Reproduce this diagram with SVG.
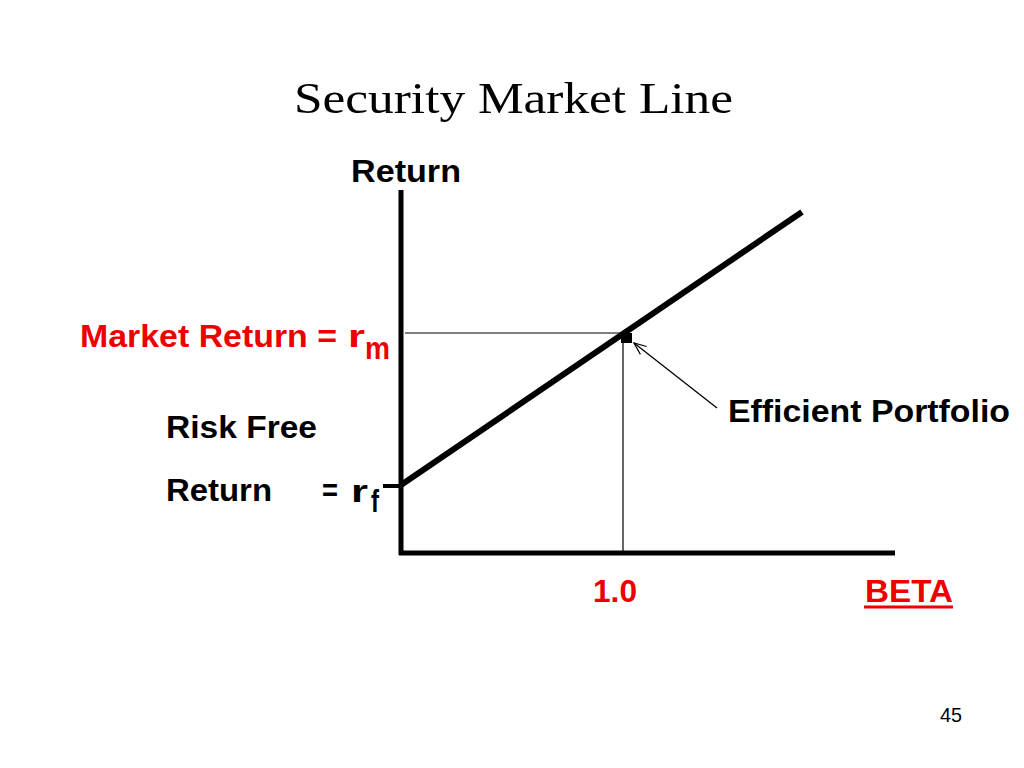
<svg xmlns="http://www.w3.org/2000/svg" width="1024" height="768" viewBox="0 0 1024 768">
<defs>
<style>
.t{font-family:"Liberation Sans",Arial,sans-serif;font-weight:bold;font-size:32px;fill:#000}
.r{fill:#ee0000}
</style>
<marker id="ah" markerWidth="14" markerHeight="14" refX="13" refY="7" orient="auto" markerUnits="userSpaceOnUse">
<path d="M1,2 L13,7 L1,12" fill="none" stroke="#000" stroke-width="1.2"/>
</marker>
</defs>
<rect width="1024" height="768" fill="#fff"/>
<text x="294" y="113" textLength="439" lengthAdjust="spacingAndGlyphs" font-family="'Liberation Serif','Times New Roman',serif" font-size="45" fill="#000">Security Market Line</text>
<g id="axes">
<line x1="401" y1="190" x2="401" y2="555" stroke="#000" stroke-width="5"/>
<line x1="399" y1="553" x2="895" y2="553" stroke="#000" stroke-width="5"/>
<line x1="383" y1="486" x2="401" y2="486" stroke="#000" stroke-width="4"/>
</g>
<g id="connectors">
<line x1="405" y1="333" x2="625" y2="333" stroke="#000" stroke-width="1.2"/>
<line x1="623" y1="333" x2="623" y2="553" stroke="#000" stroke-width="1.2"/>
<line x1="401" y1="485" x2="802" y2="212" stroke="#000" stroke-width="6"/>
<line x1="717" y1="408" x2="634" y2="343" stroke="#000" stroke-width="1.3" marker-end="url(#ah)"/>
</g>
<g id="market-point"><rect x="621" y="333" width="11" height="10" fill="#000"/></g>
<g id="label-return"><text class="t" x="351" y="182" font-size="31" textLength="110" lengthAdjust="spacingAndGlyphs">Return</text></g>
<g id="label-market">
<text class="t r" x="80" y="347" textLength="257" lengthAdjust="spacingAndGlyphs">Market Return =</text>
<text class="t r" x="348" y="347" font-size="47" textLength="17" lengthAdjust="spacingAndGlyphs">r</text>
<text class="t r" x="365" y="359" font-size="29" textLength="25" lengthAdjust="spacingAndGlyphs">m</text>
</g>
<g id="label-riskfree">
<text class="t" x="166" y="438" textLength="151" lengthAdjust="spacingAndGlyphs">Risk Free</text>
<text class="t" x="166" y="501" textLength="106" lengthAdjust="spacingAndGlyphs">Return</text>
<text class="t" x="322" y="501" textLength="16" lengthAdjust="spacingAndGlyphs">=</text>
<text class="t" x="351" y="502" font-size="45" textLength="17" lengthAdjust="spacingAndGlyphs">r</text>
<text class="t" x="371" y="512" font-size="24" textLength="8" lengthAdjust="spacingAndGlyphs">f</text>
</g>
<g id="label-efficient"><text class="t" x="728" y="422" textLength="282" lengthAdjust="spacingAndGlyphs">Efficient Portfolio</text></g>
<g id="label-beta1"><text class="t r" x="593" y="602" textLength="44" lengthAdjust="spacingAndGlyphs">1.0</text></g>
<g id="label-beta">
<text class="t r" x="865" y="602" textLength="88" lengthAdjust="spacingAndGlyphs">BETA</text>
<line x1="864" y1="607" x2="953" y2="607" stroke="#ee0000" stroke-width="3"/>
</g>
<text x="940" y="722" font-family="'Liberation Sans',Arial,sans-serif" font-size="21" textLength="22" lengthAdjust="spacingAndGlyphs" fill="#000">45</text>
</svg>
